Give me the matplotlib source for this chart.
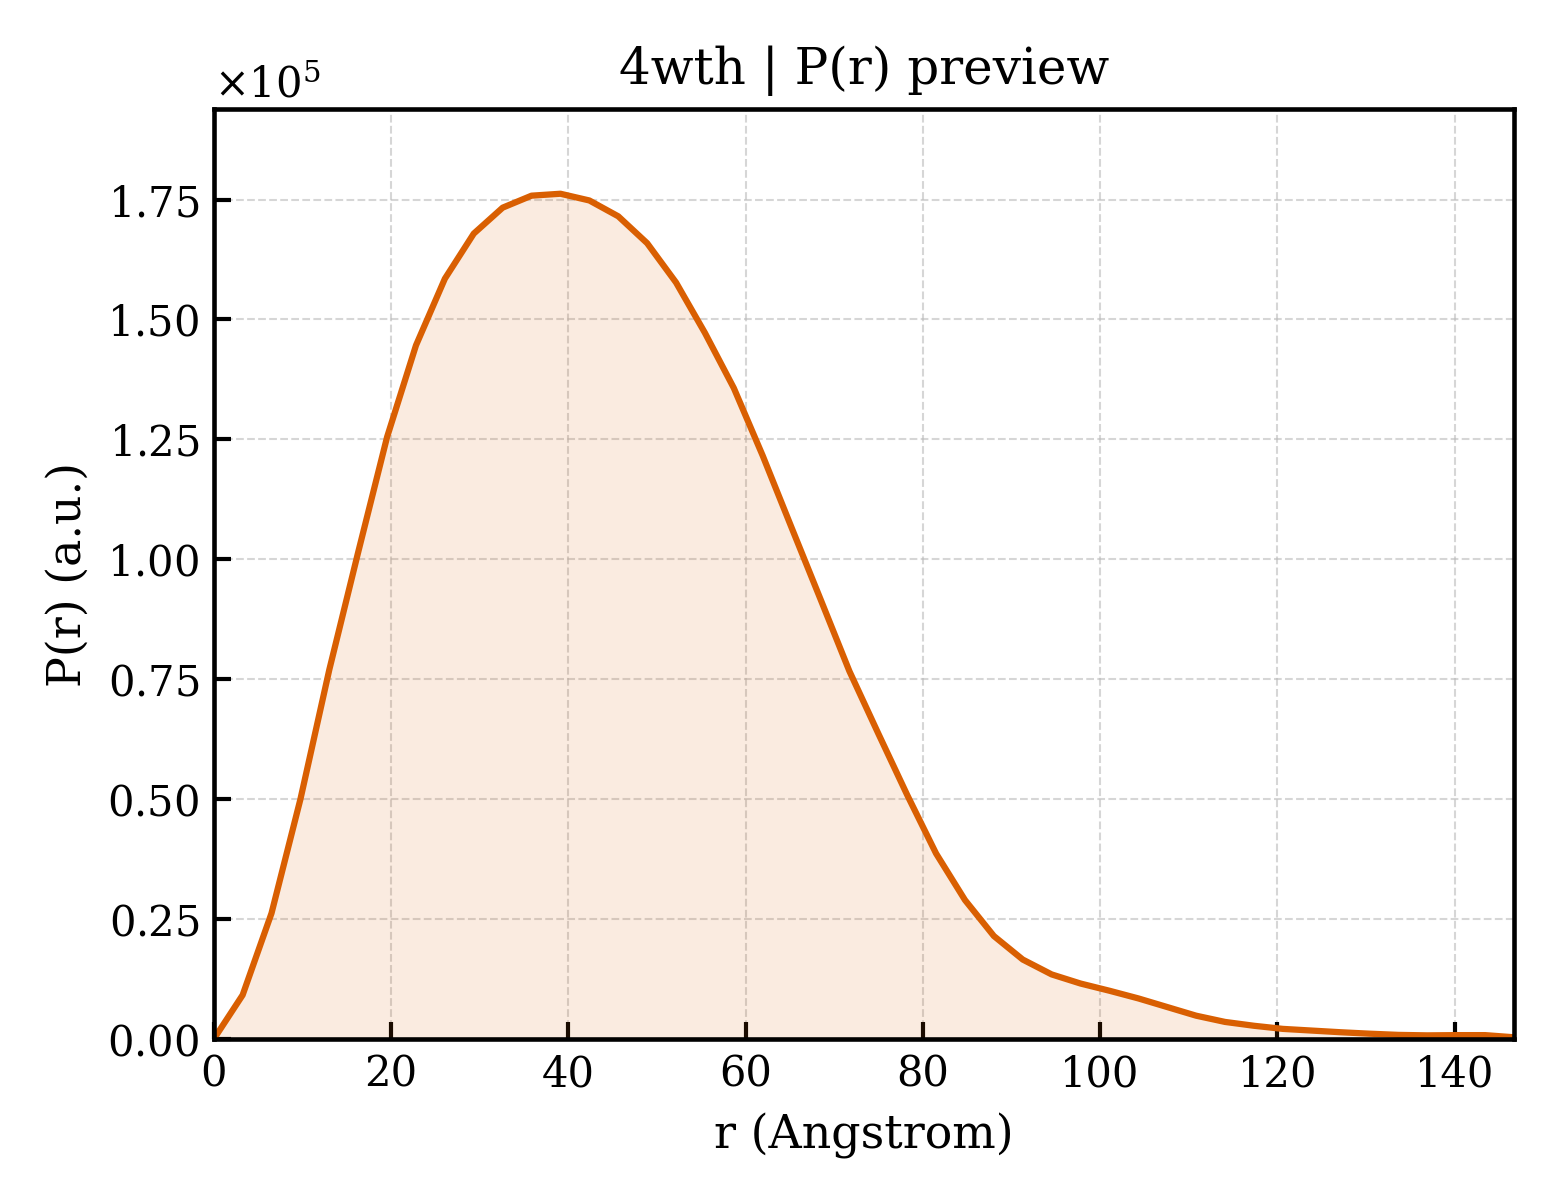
import numpy as np
import matplotlib
matplotlib.use("Agg")
import matplotlib.pyplot as plt
from matplotlib.ticker import ScalarFormatter

r_max = 146.7
n_points = 46
p_r = [
    0, 9200, 26250, 50000, 77000, 101500, 125500, 144600, 158500, 167900,
    173300, 175800, 176200, 174800, 171500, 165900, 157700, 147200, 135700, 121600,
    106600, 91700, 76700, 63700, 50900, 38700, 29000, 21500, 16600, 13500,
    11600, 10100, 8500, 6700, 4900, 3600, 2800, 2150, 1800, 1450,
    1150, 900, 800, 850, 850, 400,
]
r = np.linspace(0, r_max, n_points)
sample = "4wth"

plt.rcParams["font.family"] = "DejaVu Serif"
plt.rcParams["mathtext.fontset"] = "dejavuserif"

fig, ax = plt.subplots(figsize=(5.2, 4), dpi=300)
fig.subplots_adjust(left=0.137, right=0.9705, bottom=0.134, top=0.909)

color = "#d95f02"
ax.fill_between(r, p_r, 0, color=color, alpha=0.12, linewidth=0)
ax.plot(r, p_r, color=color, linewidth=1.5)

ax.set_xlim(0, r_max)
ax.set_ylim(0, max(p_r) * 1.1)

fmt = ScalarFormatter(useMathText=True)
fmt.set_powerlimits((0, 0))
ax.yaxis.set_major_formatter(fmt)

for side in ax.spines.values():
    side.set_linewidth(1.1)
ax.tick_params(direction="in", length=4, width=1.0, labelsize=10)
ax.grid(True, linestyle="--", linewidth=0.5, color="#bbbbbb", alpha=0.6)
ax.set_axisbelow(True)

ax.set_xlabel("r (Angstrom)", fontsize=11)
ax.set_ylabel("P(r) (a.u.)", fontsize=11)
ax.set_title(f"{sample} | P(r) preview", fontsize=12)

fig.savefig("out.png", dpi=300)
